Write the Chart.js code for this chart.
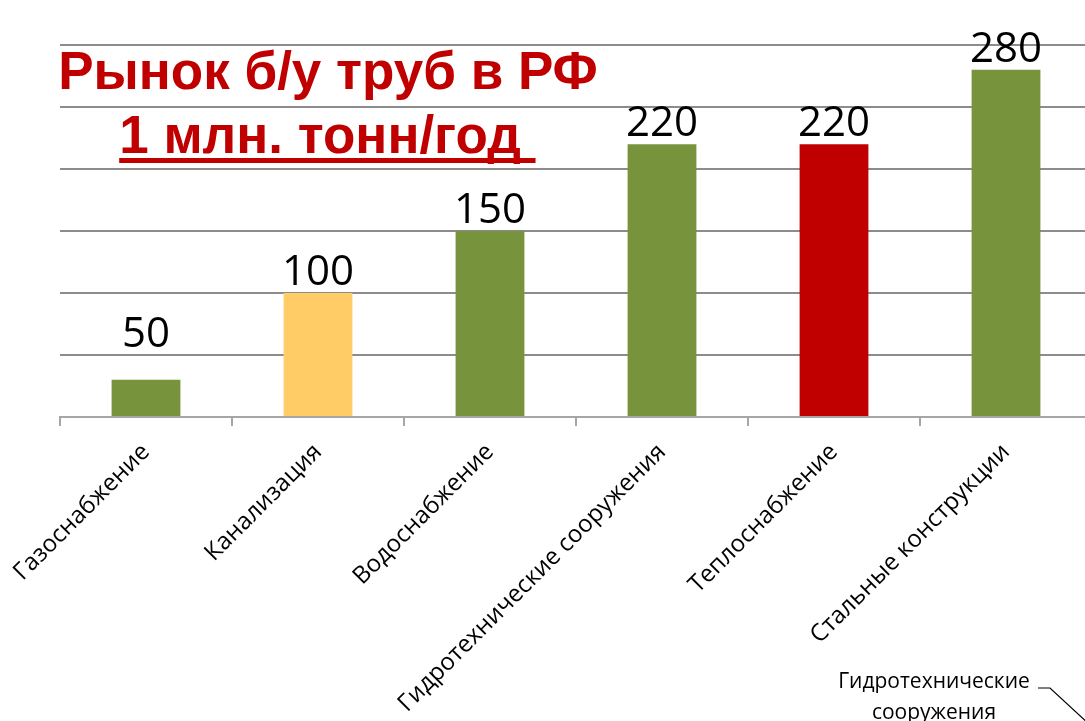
<!DOCTYPE html>
<html>
<head>
<meta charset="utf-8">
<script src="https://cdn.jsdelivr.net/npm/chart.js@4/dist/chart.umd.min.js"></script>
<style>
  html, body { margin: 0; padding: 0; background: #fff; overflow: hidden; }
</style>
</head>
<body>
<canvas id="myChart" width="1092" height="721"></canvas>
<script>
// данные
var categories = ['Газоснабжение', 'Канализация', 'Водоснабжение', 'Гидротехнические сооружения', 'Теплоснабжение', 'Стальные конструкции'];
var barValues = [30, 100, 150, 220, 220, 280];          // высота столбцов, как на рисунке
var valueLabels = ['50', '100', '150', '220', '220', '280']; // подписи над столбцами
var barColors = ['#77933C', '#FFCC66', '#77933C', '#77933C', '#C00000', '#77933C'];
var titleLines = ['Рынок б/у труб в РФ', '1 млн. тонн/год'];
var calloutLines = ['Гидротехнические', 'сооружения'];

var labelsPlugin = {
    id: 'labels',
    afterDatasetsDraw: function (chart) {
        var c = chart.ctx;
        var y = chart.scales.y;
        var meta = chart.getDatasetMeta(0);
        c.save();
        c.fillStyle = '#000';
        c.font = '42px "Open Sans"';
        c.textAlign = 'center';
        c.textBaseline = 'alphabetic';
        meta.data.forEach(function (bar, i) {
            var py = y.getPixelForValue(Number(valueLabels[i]));
            c.fillText(valueLabels[i], bar.x, py - 8);
        });
        c.restore();
    },
    afterDraw: function (chart) {
        var c = chart.ctx;
        c.save();
        // заголовок
        c.fillStyle = '#C00000';
        c.font = 'bold 53px "Liberation Sans"';
        c.textAlign = 'center';
        c.textBaseline = 'alphabetic';
        c.fillText(titleLines[0], 328, 89);
        c.fillText(titleLines[1], 320, 153);
        var w = c.measureText(titleLines[1] + ' ').width;
        c.fillRect(320 - c.measureText(titleLines[1]).width / 2, 158, w, 5);

        // выноска внизу справа
        c.fillStyle = '#000';
        c.font = '21px "Open Sans"';
        c.fillText(calloutLines[0], 934, 688);
        c.fillText(calloutLines[1], 934, 719);
        c.strokeStyle = '#000';
        c.lineWidth = 1.2;
        c.beginPath();
        c.moveTo(1038, 688);
        c.lineTo(1050, 688);
        c.lineTo(1090, 725);
        c.stroke();
        c.restore();
    }
};

var ctx = document.getElementById('myChart').getContext('2d');
new Chart(ctx, {
    type: 'bar',
    data: {
        labels: categories,
        datasets: [{
            data: barValues,
            backgroundColor: barColors,
            categoryPercentage: 1,
            barPercentage: 0.4
        }]
    },
    options: {
        responsive: false,
        animation: false,
        layout: { padding: { top: 45, left: 0, right: 0, bottom: 0 } },
        plugins: {
            legend: { display: false },
            tooltip: { enabled: false }
        },
        scales: {
            x: {
                grid: { offset: true, drawOnChartArea: false, tickLength: 9, color: '#a6a6a6', lineWidth: 2 },
                border: { color: '#a6a6a6', width: 2 },
                ticks: {
                    autoSkip: false,
                    minRotation: 45,
                    maxRotation: 45,
                    padding: 12,
                    color: '#000',
                    font: { family: 'Open Sans', size: 24 }
                },
                afterFit: function (s) { s.height = 304; }
            },
            y: {
                min: 0,
                max: 300,
                ticks: { stepSize: 50, display: false },
                grid: { color: '#8c8c8c', lineWidth: 2, drawTicks: false },
                border: { display: false },
                afterFit: function (s) { s.width = 60; }
            }
        }
    },
    plugins: [labelsPlugin]
});
</script>
</body>
</html>
